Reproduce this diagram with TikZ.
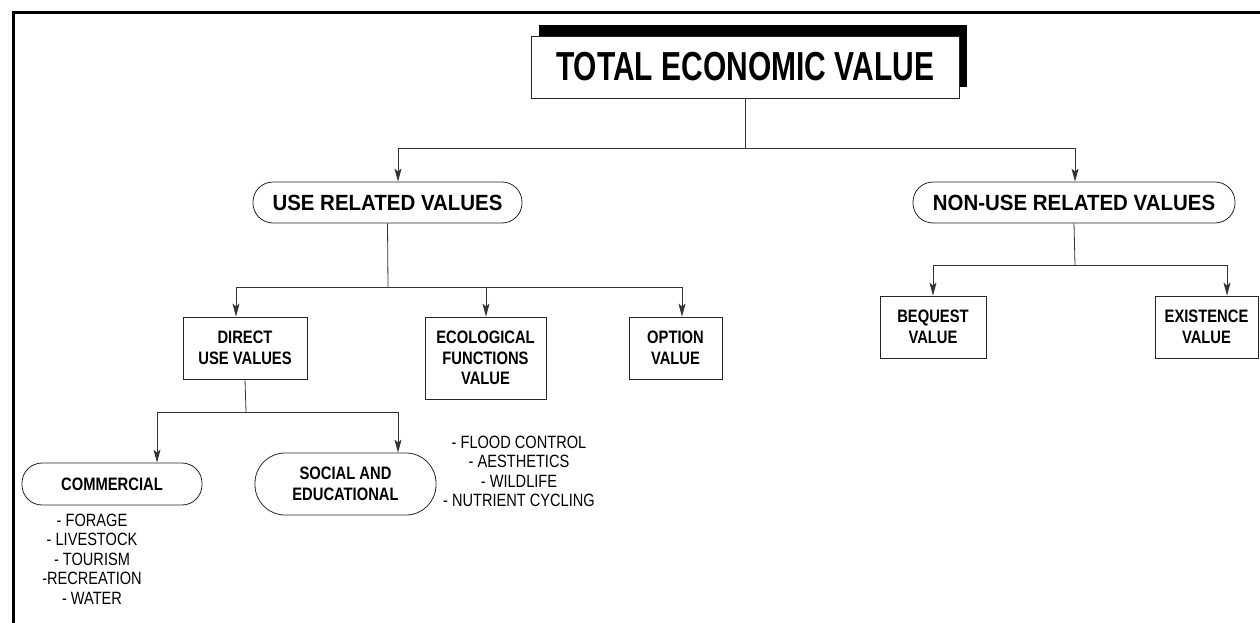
\documentclass[tikz,border=0pt]{standalone}
\usepackage{fontspec}
\setmainfont{Liberation Sans}[FakeStretch=0.82]
\newfontfamily\titlefont{Liberation Sans}[FakeStretch=0.74]
\newfontfamily\ovalfont{Liberation Sans}[FakeStretch=0.93]
\usetikzlibrary{calc,arrows.meta,shadows}
\newcommand{\boxfont}{\fontsize{18}{20.5}\selectfont\bfseries}

\begin{document}
\begin{tikzpicture}[x=1pt,y=-1pt,
  every node/.style={draw=black!85,line width=.8pt,fill=white,align=center,inner sep=0pt},
  titlebox/.style={minimum width=428pt,minimum height=62pt,
    font=\titlefont\fontsize{40.5}{44}\selectfont\bfseries,
    drop shadow={shadow xshift=8pt,shadow yshift=11pt,fill=black,opacity=1}},
  valuebox/.style={minimum height=62pt,font=\boxfont},
  oval/.style={rounded corners=20pt,minimum height=41pt,
    font=\ovalfont\fontsize{22}{24}\selectfont\bfseries},
  pill/.style={rounded corners=#1,font=\boxfont},
  itemlist/.style={draw=none,fill=none,font=\fontsize{17.8}{19.5}\selectfont}]

\useasboundingbox (0,0) rectangle (1260,623);
\draw[line width=3pt] (13,623) -- (13,13) -- (1260,13);

\node[titlebox] (tev) at (745,67) {TOTAL ECONOMIC VALUE};
\node[oval,minimum width=269pt] (use) at (387.5,202.5) {USE RELATED VALUES};
\node[oval,minimum width=322pt] (nonuse) at (1074,202.5) {NON-USE RELATED VALUES};
\node[valuebox,minimum width=124pt] (direct) at (245,348) {DIRECT\\USE VALUES};
\node[valuebox,minimum width=121pt,minimum height=82pt] (eco) at (485.5,358) {ECOLOGICAL\\FUNCTIONS\\VALUE};
\node[valuebox,minimum width=93pt] (option) at (675.5,348) {OPTION\\VALUE};
\node[valuebox,minimum width=106pt] (bequest) at (933,327) {BEQUEST\\VALUE};
\node[valuebox,minimum width=103pt] (exist) at (1206.5,327) {EXISTENCE\\VALUE};
\node[pill=20pt,minimum width=180pt,minimum height=42pt] (comm) at (112,484) {COMMERCIAL};
\node[pill=30pt,minimum width=181pt,minimum height=62pt] (social) at (345.5,484) {SOCIAL AND\\EDUCATIONAL};
\node[itemlist] (commlist) at (92,559) {- FORAGE\\- LIVESTOCK\\- TOURISM\\-RECREATION\\- WATER};
\node[itemlist] (ecolist) at (519,471.5) {- FLOOD CONTROL\\- AESTHETICS\\- WILDLIFE\\- NUTRIENT CYCLING};

\begin{scope}[line width=.8pt, draw=black!80, arr/.style={-{Stealth[length=13pt,width=7pt,inset=3pt]}}]
%junctions
\coordinate (j1) at (745,148);
\coordinate (j2) at (388,287);
\coordinate (j3) at (1075,265);
\coordinate (j4) at (246,412);
%top level
\draw (tev.south) -- (j1);
\draw[arr] (j1) -| ([xshift=10.5pt]use.north);
\draw[arr] (j1) -| ([xshift=1pt]nonuse.north);
%use related values
\draw (use.south) -- (j2);
\draw[arr] (j2) -| ([xshift=-9pt]direct.north);
\draw[arr] (j2) -| ([xshift=.5pt]eco.north);
\draw[arr] (j2) -| ([xshift=6.5pt]option.north);
%non-use related values
\draw (nonuse.south) -- (j3);
\draw[arr] (j3) -| (bequest.north);
\draw[arr] (j3) -| ([xshift=20.5pt]exist.north);
%direct use values
\draw (direct.south) -- (j4);
\draw[arr] (j4) -| ([xshift=45pt]comm.north);
\draw[arr] (j4) -| ([xshift=52.5pt]social.north);
\end{scope}
\end{tikzpicture}
\end{document}
